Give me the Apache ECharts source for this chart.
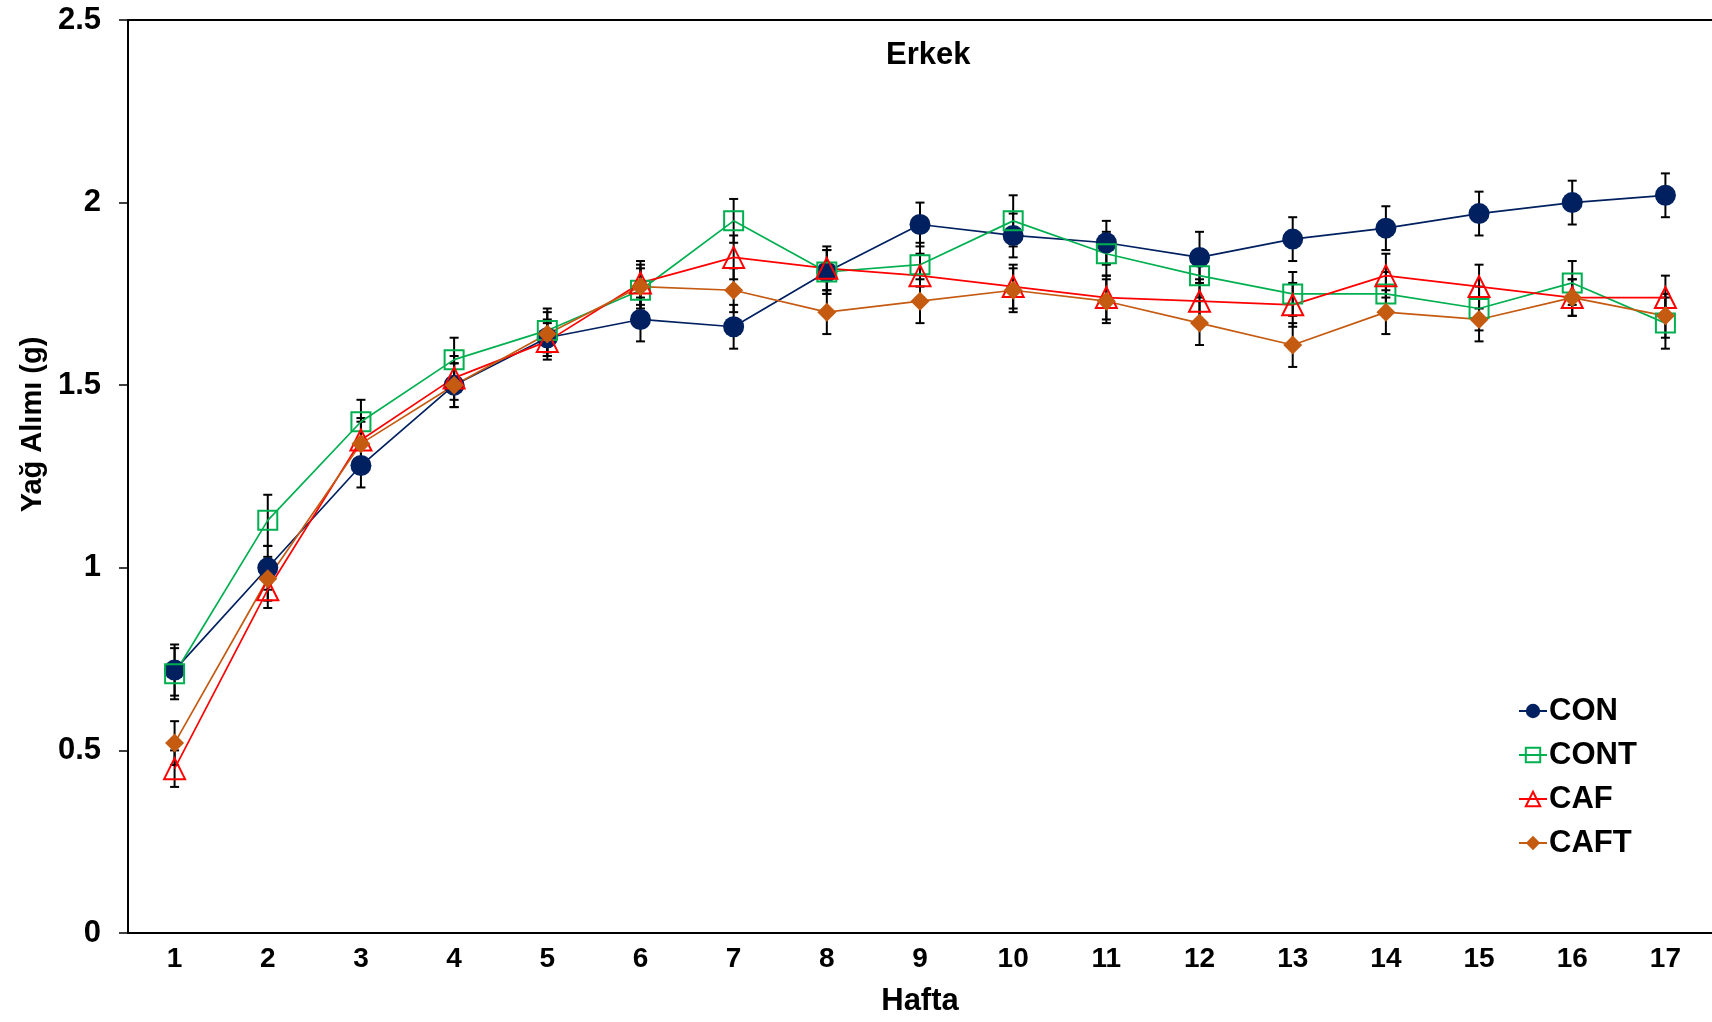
<!DOCTYPE html>
<html lang="tr" style="background: #FFFFFF;height: 100%">

<head>
    <meta charset="utf-8" />
    <title>Erkek - Yağ Alımı</title>
    <script type="text/javascript" src="https://cdn.jsdelivr.net/npm/echarts@6/dist/echarts.min.js"></script>
</head>

<body style="margin: 0;height: 100%">
    <div id="chart" style="width:1712px;height:1022px"></div>
    <script>
    // haftalar
    let weeks = ['1', '2', '3', '4', '5', '6', '7', '8', '9', '10', '11', '12', '13', '14', '15', '16', '17']

    // ortalamalar (g)
    let con = [0.72, 1.00, 1.28, 1.50, 1.63, 1.68, 1.66, 1.81, 1.94, 1.91, 1.89, 1.85, 1.90, 1.93, 1.97, 2.00, 2.02]
    let cont = [0.71, 1.13, 1.40, 1.57, 1.65, 1.76, 1.95, 1.81, 1.83, 1.95, 1.86, 1.80, 1.75, 1.75, 1.71, 1.78, 1.67]
    let caf = [0.45, 0.94, 1.35, 1.52, 1.62, 1.78, 1.85, 1.82, 1.80, 1.77, 1.74, 1.73, 1.72, 1.80, 1.77, 1.74, 1.74]
    let caft = [0.52, 0.97, 1.34, 1.50, 1.64, 1.77, 1.76, 1.70, 1.73, 1.76, 1.73, 1.67, 1.61, 1.70, 1.68, 1.74, 1.69]

    // standart hata
    let conErr = [0.07, 0.06, 0.06, 0.06, 0.05, 0.06, 0.06, 0.06, 0.06, 0.06, 0.06, 0.07, 0.06, 0.06, 0.06, 0.06, 0.06]
    let contErr = [0.07, 0.07, 0.06, 0.06, 0.06, 0.06, 0.06, 0.06, 0.06, 0.07, 0.06, 0.06, 0.06, 0.06, 0.06, 0.06, 0.07]
    let cafErr = [0.05, 0.05, 0.06, 0.06, 0.05, 0.06, 0.06, 0.06, 0.06, 0.06, 0.06, 0.06, 0.06, 0.06, 0.06, 0.05, 0.06]
    let caftErr = [0.06, 0.06, 0.06, 0.06, 0.06, 0.06, 0.06, 0.06, 0.06, 0.06, 0.06, 0.06, 0.06, 0.06, 0.06, 0.05, 0.06]

    let font = '"Liberation Sans", Arial, sans-serif'
    let chart = echarts.init(document.getElementById('chart'))

    function errSeries(name, vals, errs) {
        return {
            type: 'custom',
            name: name,
            z: 1,
            silent: true,
            data: vals.map((v, i) => [i, v - errs[i], v + errs[i]]),
            renderItem: function (params, api) {
                let lo = api.coord([api.value(0), api.value(1)])
                let hi = api.coord([api.value(0), api.value(2)])
                let w = 4.5
                let st = { stroke: '#000', lineWidth: 2 }
                return {
                    type: 'group',
                    children: [
                        { type: 'line', shape: { x1: lo[0], y1: lo[1], x2: hi[0], y2: hi[1] }, style: st },
                        { type: 'line', shape: { x1: lo[0] - w, y1: lo[1], x2: lo[0] + w, y2: lo[1] }, style: st },
                        { type: 'line', shape: { x1: hi[0] - w, y1: hi[1], x2: hi[0] + w, y2: hi[1] }, style: st }
                    ]
                }
            }
        }
    }

    function lineSeries(name, vals, color, symbol, size, filled) {
        return {
            type: 'line',
            name: name,
            z: 3,
            data: vals,
            symbol: symbol,
            symbolSize: size,
            showAllSymbol: true,
            lineStyle: { color: color, width: 1.7 },
            itemStyle: filled ?
                { color: color, borderWidth: 0 } :
                { color: 'rgba(255,255,255,0)', borderColor: color, borderWidth: 2 }
        }
    }

    chart.setOption({
        animation: false,
        title: {
            text: 'Erkek',
            left: 881,
            top: 35,
            textStyle: { fontFamily: font, fontSize: 31, fontWeight: 'bold', color: '#000' }
        },
        legend: {
            orient: 'vertical',
            left: 1513,
            top: 690,
            itemWidth: 28,
            itemHeight: 18,
            itemGap: 12,
            data: ['CON', 'CONT', 'CAF', 'CAFT'],
            textStyle: { fontFamily: font, fontSize: 31, lineHeight: 32, fontWeight: 'bold', color: '#000', padding: [0, 0, 0, -3] }
        },
        grid: { left: 128, right: 0, top: 20, bottom: 84 },
        xAxis: [{
            type: 'category',
            data: weeks,
            boundaryGap: true,
            name: 'Hafta',
            nameLocation: 'middle',
            nameGap: 53,
            nameTextStyle: { fontFamily: font, fontSize: 31, fontWeight: 'bold', color: '#000' },
            axisLine: { lineStyle: { color: '#000', width: 2 } },
            axisTick: { alignWithLabel: true, length: 8, lineStyle: { color: '#000', width: 1.5 } },
            axisLabel: { margin: 12, fontFamily: font, fontSize: 28, fontWeight: 'bold', color: '#000' },
            splitLine: { show: false }
        }, {
            type: 'category',
            data: weeks,
            position: 'top',
            axisLine: { lineStyle: { color: '#000', width: 2 } },
            axisTick: { show: false },
            axisLabel: { show: false },
            splitLine: { show: false }
        }],
        yAxis: {
            type: 'value',
            min: 0,
            max: 2.5,
            interval: 0.5,
            name: 'Yağ Alımı (g)',
            nameLocation: 'middle',
            nameGap: 79,
            nameTextStyle: { fontFamily: font, fontSize: 29, fontWeight: 'bold', color: '#000', padding: [0, 0, 0, 104] },
            axisLine: { show: true, lineStyle: { color: '#000', width: 2 } },
            axisTick: { show: true, length: 9, lineStyle: { color: '#000', width: 1.5 } },
            axisLabel: { margin: 27, fontFamily: font, fontSize: 31, fontWeight: 'bold', color: '#000' },
            splitLine: { show: false }
        },
        series: [
            errSeries('CON-err', con, conErr),
            errSeries('CONT-err', cont, contErr),
            errSeries('CAF-err', caf, cafErr),
            errSeries('CAFT-err', caft, caftErr),
            lineSeries('CON', con, '#002060', 'circle', 21, true),
            lineSeries('CONT', cont, '#00B050', 'rect', 19, false),
            lineSeries('CAF', caf, '#FF0000', 'triangle', 21, false),
            lineSeries('CAFT', caft, '#C55A11', 'diamond', 19, true)
        ]
    })
    </script>
</body>

</html>
